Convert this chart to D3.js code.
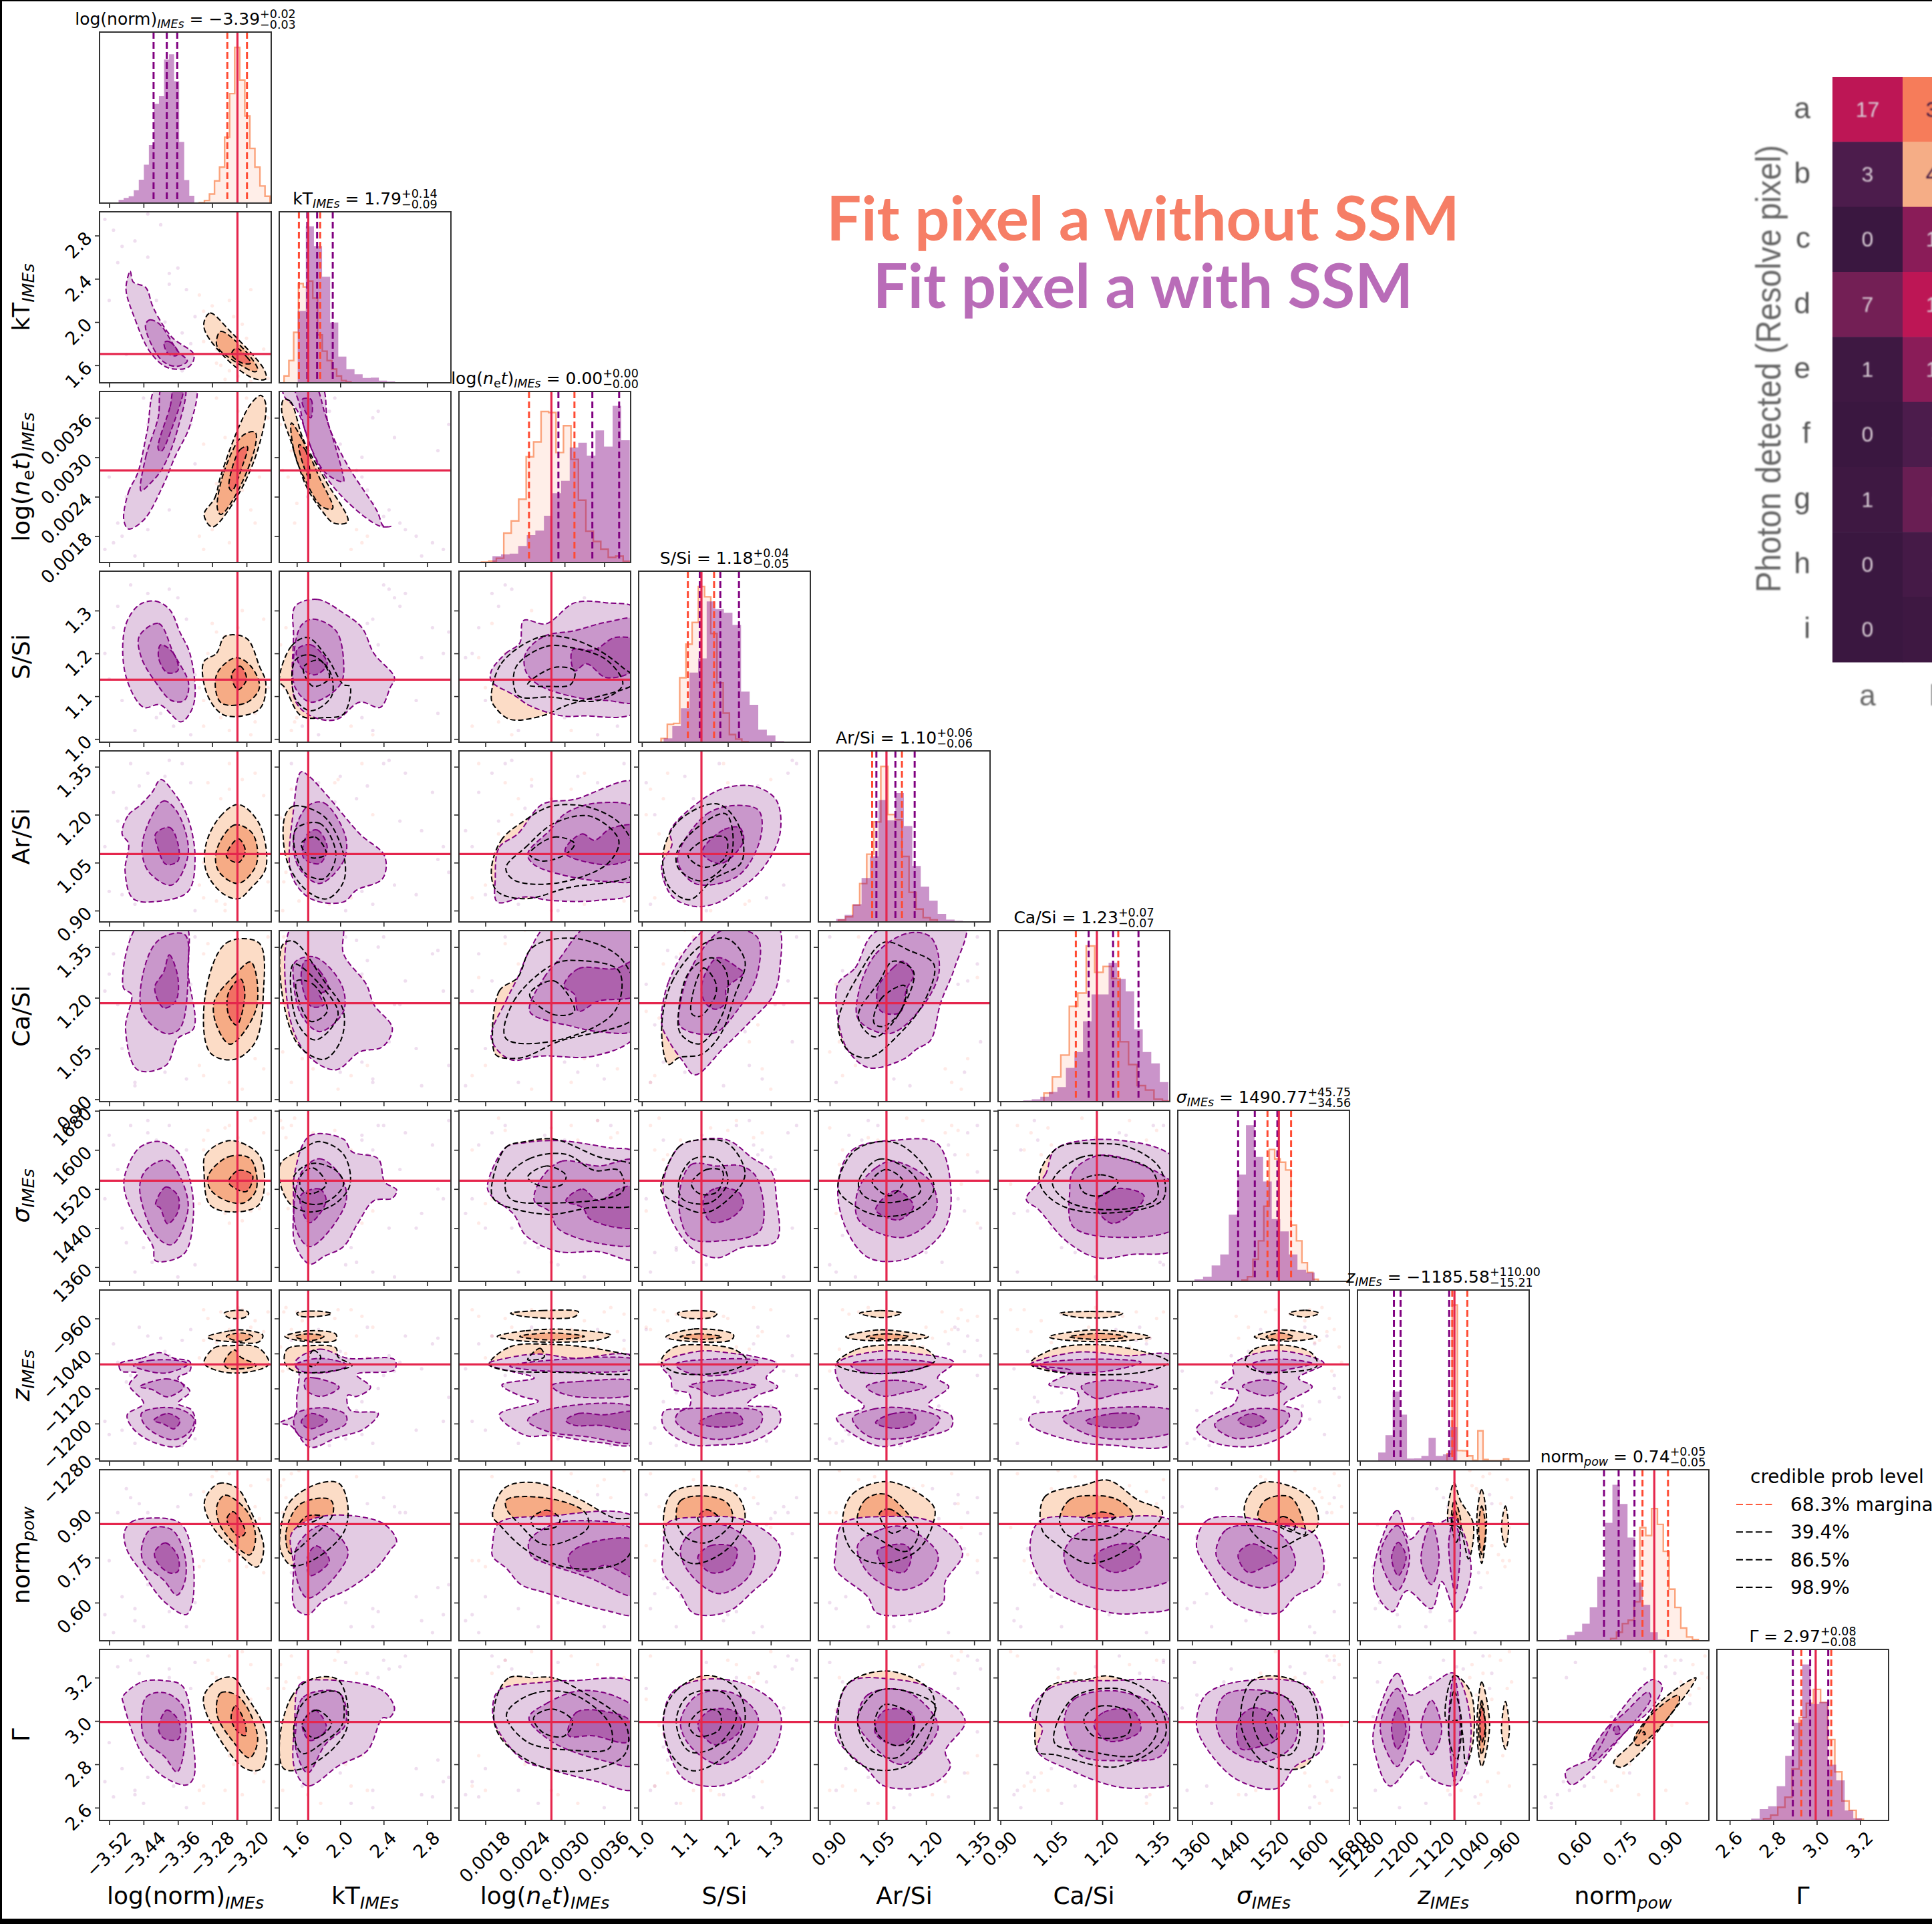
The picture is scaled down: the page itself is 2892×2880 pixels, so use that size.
<!DOCTYPE html>
<html><head><meta charset="utf-8">
<script src="https://cdn.jsdelivr.net/npm/d3@7"></script>
<style>html,body{margin:0;padding:0;background:#fff}svg{display:block}text{font-family:"DejaVu Sans"}</style>
</head><body><svg id="c" width="2892" height="2880"></svg>
<script>
const paramDomains=[[-3.5425,-3.1425],[1.438,3.02],[.0014,.004],[.9925,1.392],[.8646,1.3996],[.893,1.3986],[1331,1681],[-1285.6,-895],[.473,1.043],[2.541,3.33]];
const paramTicks=[[-3.52,-3.44,-3.36,-3.28,-3.2],[1.6,2,2.4,2.8],[.0018,.0024,.003,.0036],[1,1.1,1.2,1.3],[.9,1.05,1.2,1.35],[.9,1.05,1.2,1.35],[1360,1440,1520,1600,1680],[-1280,-1200,-1120,-1040,-960],[.6,.75,.9],[2.6,2.8,3,3.2]];
const tickFormats=[".2f",".1f",".4f",".1f",".2f",".2f","d","d",".2f",".1f"];
const truthValues=[-3.2212,1.705,.0028,1.1386,1.0768,1.184,1537,-1065,.8618,2.995];
const medians=["−3.39","1.79","0.00","1.18","1.10","1.23","1490.77","−1185.58","0.74","2.97"];
const errPlus=["+0.02","+0.14","+0.00","+0.04","+0.06","+0.07","+45.75","+110.00","+0.05","+0.08"];
const errMinus=["−0.03","−0.09","−0.00","−0.05","−0.06","−0.07","−34.56","−15.21","−0.05","−0.08"];
const vlinesSsm=[[-3.4166,-3.3858,-3.3615],[1.696,1.787,1.931],[.002906,.00342,.003826],[1.1347,1.1825,1.2259],[1.0454,1.1047,1.1647],[1.1597,1.2317,1.3065],[1454,1488,1534],[-1202.7,-1187.5,-1077],[.695,.7434,.796],[2.89,2.9695,3.0527]];
const vlinesNoSsm=[[-3.2448,-3.199],[1.619,1.815],[.002461,.003149],[1.107,1.168],[1.0322,1.125],[1.122,1.247],[1513.9,1562],[-1070,-1035.7],[.8226,.9073],[2.929,3.0666]];
const histSsmStart=[-3.4981,1.608,.001907,1.0308,.9202,.9671,1365,-1254.7,.5468,2.6985];
const histSsmStep=[.01176,.0748,.00013,.02,.02635,.02514,17.5,16.35,.02513,.0391];
const histSsm=[
[.02,.03,.04,.075,.137,.225,.34,.58,.625,.84,.87,.713,.357,.135,.043,.002],
[.42,.915,.8,.62,.353,.153,.08,.05,.028,.03,.013,.008,.004],
[.037,.048,.052,.097,.16,.187,.273,.405,.478,.673,.7,.625,.772,.678,.916,.715],
[.003,.022,.094,.198,.407,.49,.823,.778,.757,.686,.296,.219,.073,.04,.007,.003],
[.018,.041,.104,.257,.383,.713,.594,.754,.561,.327,.206,.124,.047,.014,.007,.003],
[.007,.014,.028,.057,.085,.197,.29,.47,.627,.627,.812,.718,.645,.423,.29,.224,.114],
[.012,.027,.093,.157,.39,.624,.913,.728,.584,.364,.292,.157,.067,.052,.004],
[.004,.05,.151,.406,.271,.015,.016,.03,.136,.03,.039,.199],
[.007,.033,.053,.1,.195,.374,.689,.912,.8,.604,.341,.21,.05,.007],
[.011,.066,.083,.2,.378,.571,.912,.681,.692,.326,.234,.059,.013]];
const histNoSsmStart=[-3.3099,1.483,.00174,1.0447,.9275,1.028,1462,-1081.8,.717,2.7553];
const histNoSsmStep=[.01176,.044,.000113,.01445,.02196,.02493,11.1,11.68,.0194,.03277];
const histNoSsm=[
[.002,.015,.053,.13,.21,.385,.64,.91,.72,.51,.32,.21,.1,.04,.006],
[.04,.13,.295,.58,.56,.595,.495,.28,.185,.13,.08,.04,.013,.005],
[.002,.008,.025,.172,.243,.37,.618,.705,.883,.877,.643,.8,.603,.364,.183,.123,.078,.03,.037,.007],
[.022,.105,.11,.377,.573,.7,.91,.85,.636,.347,.17,.045,.018,.003],
[.011,.03,.098,.224,.396,.585,.909,.628,.597,.383,.173,.075,.025,.012],
[.05,.144,.272,.557,.635,.91,.756,.79,.72,.35,.217,.094,.068,.014,.004],
[.007,.027,.129,.237,.439,.771,.716,.696,.651,.329,.237,.109,.052,.012],
[.042,.912,.061,.06,.03,.004,.177,.009,.002,.002,.002,.012],
[.013,.05,.1,.12,.228,.661,.615,.773,.68,.523,.302,.195,.074,.022,.007],
[.011,.031,.077,.136,.302,.602,.685,.766,.69,.473,.284,.114,.059,.007]];
const heatRows=["a","b","c","d","e","f","g","h","i"];
const heatCols=["a","b"];
const heatValues=[[17,31],[3,41],[0,12],[7,17],[1,12],[0,3],[1,6],[0,2],[0,1]];
const legendLabels=["68.3% marginal","39.4%","86.5%","98.9%"];
// credible contours: [row, column, series, level, x, y, x, y, ...] in data units
const contourRings=[
[1,0,"s",0,-3.48,2.354,-3.471,2.47,-3.464,2.37,-3.435,2.32,-3.417,2.13,-3.374,1.86,-3.324,1.71,-3.324,1.64,-3.339,1.575,-3.385,1.58,-3.425,1.725,-3.464,2.07,-3.48,2.27],
[1,0,"s",1,-3.435,1.982,-3.425,2.02,-3.403,1.982,-3.36,1.73,-3.338,1.64,-3.363,1.59,-3.396,1.64,-3.43,1.87],
[1,0,"s",2,-3.392,1.81,-3.381,1.82,-3.36,1.73,-3.363,1.69,-3.383,1.71],
[1,0,"o",0,-3.299,2,-3.285,2.083,-3.238,1.914,-3.159,1.56,-3.155,1.475,-3.181,1.475,-3.238,1.627,-3.295,1.9],
[1,0,"o",1,-3.27,1.83,-3.26,1.914,-3.202,1.73,-3.174,1.56,-3.18,1.54,-3.224,1.627,-3.267,1.762],
[1,0,"o",2,-3.224,1.76,-3.2,1.68,-3.19,1.62,-3.21,1.62,-3.235,1.7],
[2,0,"s",0,-3.486,.00205,-3.475,.00247,-3.453,.00277,-3.432,.00338,-3.407,.0041,-3.32,.0041,-3.331,.0035,-3.367,.003,-3.396,.00255,-3.439,.00205,-3.475,.00191],
[2,0,"s",1,-3.446,.00249,-3.435,.003,-3.406,.0036,-3.395,.0041,-3.345,.0041,-3.36,.00344,-3.396,.00283,-3.428,.00258],
[2,0,"s",2,-3.406,.00313,-3.378,.00377,-3.367,.0041,-3.348,.0041,-3.374,.00344,-3.399,.00309],
[2,0,"o",0,-3.299,.00213,-3.274,.00238,-3.26,.00272,-3.216,.00349,-3.188,.00383,-3.166,.00394,-3.155,.0038,-3.174,.00311,-3.224,.00238,-3.28,.00194],
[2,0,"o",1,-3.268,.00222,-3.253,.00277,-3.209,.00333,-3.18,.00338,-3.18,.00316,-3.224,.00244,-3.26,.00213],
[2,0,"o",2,-3.241,.00255,-3.216,.00311,-3.198,.00316,-3.209,.00288,-3.234,.00249],
[2,1,"s",0,1.48,.0041,1.82,.0041,1.89,.0035,2.06,.0029,2.34,.00218,2.4,.00195,2.47,.00195,2.37,.00195,2.06,.00233,1.8,.00288,1.6,.00372,1.48,.00394],
[2,1,"s",1,1.58,.0041,1.76,.0041,1.86,.00366,2.02,.00277,2.03,.00263,1.86,.00277,1.69,.00333,1.62,.00383],
[2,1,"s",2,1.65,.00388,1.73,.00388,1.73,.0036,1.69,.00366],
[2,1,"o",0,1.48,.00388,1.54,.00385,1.66,.00327,1.86,.00266,2.07,.00202,1.94,.002,1.83,.00219,1.69,.00255,1.55,.00322,1.46,.00372],
[2,1,"o",1,1.55,.00352,1.65,.00327,1.8,.00272,1.93,.00222,1.83,.00225,1.69,.00261,1.58,.00305],
[2,1,"o",2,1.62,.00319,1.68,.00311,1.72,.00266,1.66,.00288],
[3,0,"s",0,-3.449,1.314,-3.412,1.322,-3.379,1.302,-3.355,1.249,-3.332,1.2,-3.32,1.1,-3.332,1.06,-3.353,1.04,-3.402,1.08,-3.44,1.074,-3.482,1.15,-3.482,1.265],
[3,0,"s",1,-3.45,1.24,-3.405,1.27,-3.37,1.2,-3.335,1.13,-3.345,1.09,-3.375,1.09,-3.41,1.13,-3.445,1.19],
[3,0,"s",2,-3.4,1.22,-3.37,1.2,-3.36,1.16,-3.385,1.155,-3.405,1.19],
[3,0,"o",0,-3.3,1.18,-3.27,1.2,-3.25,1.24,-3.2,1.235,-3.17,1.17,-3.155,1.13,-3.17,1.07,-3.25,1.055,-3.29,1.1],
[3,0,"o",1,-3.27,1.15,-3.225,1.19,-3.19,1.17,-3.17,1.12,-3.2,1.085,-3.26,1.085],
[3,0,"o",2,-3.235,1.15,-3.215,1.17,-3.2,1.14,-3.22,1.115],
[3,1,"s",0,1.585,1.31,1.79,1.326,2.03,1.294,2.2,1.26,2.31,1.2,2.5,1.143,2.46,1.12,2.37,1.074,2.18,1.086,1.96,1.045,1.73,1.054,1.585,1.09,1.57,1.24],
[3,1,"s",1,1.64,1.265,1.75,1.28,1.96,1.253,2.03,1.184,2,1.127,1.73,1.086,1.585,1.12,1.57,1.19],
[3,1,"s",2,1.6,1.208,1.73,1.22,1.88,1.176,1.77,1.15,1.64,1.167],
[3,1,"o",0,1.44,1.135,1.55,1.217,1.7,1.237,1.88,1.19,2.03,1.127,2.09,1.123,2.03,1.058,1.85,1.05,1.64,1.054,1.49,1.12],
[3,1,"o",1,1.585,1.184,1.73,1.196,1.9,1.16,1.92,1.1,1.73,1.066,1.585,1.095],
[3,1,"o",2,1.66,1.167,1.81,1.184,1.9,1.143,1.75,1.123],
[3,2,"s",0,.00189,1.159,.00211,1.2,.00232,1.224,.00238,1.277,.00272,1.269,.00315,1.318,.00364,1.318,.0041,1.302,.0041,1.066,.00327,1.054,.00296,1.054,.00247,1.078,.00224,1.102,.00189,1.135],
[3,2,"s",1,.00241,1.2,.00269,1.24,.00315,1.253,.00364,1.273,.0041,1.277,.0041,1.09,.00364,1.09,.00315,1.098,.0026,1.127,.00241,1.159],
[3,2,"s",2,.00312,1.208,.00345,1.208,.00376,1.237,.0041,1.228,.0041,1.167,.00364,1.143,.00333,1.176,.00315,1.159],
[3,2,"o",0,.00189,1.094,.00204,1.176,.0026,1.237,.00302,1.237,.00351,1.208,.00388,1.167,.0041,1.135,.00302,1.078,.00266,1.054,.00217,1.046,.00195,1.074],
[3,2,"o",1,.00226,1.167,.00272,1.216,.00315,1.212,.00364,1.184,.00388,1.127,.00351,1.09,.00278,1.098,.00229,1.102],
[3,2,"o",2,.00244,1.127,.00284,1.167,.00315,1.159,.00309,1.127,.00278,1.123],
[4,0,"s",0,-3.49,1.14,-3.475,1.2,-3.45,1.227,-3.42,1.27,-3.4,1.31,-3.37,1.27,-3.338,1.195,-3.32,1.066,-3.336,.96,-3.4,.93,-3.464,.937,-3.483,1.023,-3.475,1.11],
[4,0,"s",1,-3.435,1.152,-3.393,1.243,-3.36,1.205,-3.336,1.077,-3.374,.98,-3.426,1.018,-3.443,1.077],
[4,0,"s",2,-3.412,1.14,-3.379,1.16,-3.36,1.11,-3.36,1.055,-3.388,1.045,-3.407,1.098],
[4,0,"o",0,-3.294,1.11,-3.261,1.195,-3.219,1.232,-3.171,1.173,-3.155,1.034,-3.19,.97,-3.219,.937,-3.256,.954,-3.294,1.023],
[4,0,"o",1,-3.27,1.088,-3.228,1.168,-3.186,1.141,-3.177,1.045,-3.219,.985,-3.265,1.023],
[4,0,"o",2,-3.247,1.071,-3.219,1.125,-3.203,1.088,-3.219,1.05],
[4,1,"s",0,1.64,1.334,1.72,1.318,1.88,1.26,2.18,1.14,2.41,1.07,2.39,1,2.15,.964,2.03,.927,1.73,.937,1.55,1.013,1.57,1.216],
[4,1,"s",1,1.7,1.227,1.85,1.237,2.05,1.13,2.03,1.055,1.81,.985,1.62,1.034,1.57,1.13],
[4,1,"s",2,1.7,1.14,1.79,1.152,1.88,1.098,1.81,1.047,1.66,1.066],
[4,1,"o",0,1.49,1.195,1.57,1.227,1.85,1.195,2.03,1.077,2.03,.99,1.88,.937,1.7,.96,1.51,1.055],
[4,1,"o",1,1.585,1.152,1.81,1.173,1.96,1.077,1.85,1,1.66,1.023],
[4,1,"o",2,1.64,1.11,1.77,1.13,1.87,1.077,1.73,1.066],
[4,2,"s",0,.00195,1,.00201,1.098,.00229,1.14,.00266,1.232,.00315,1.248,.0041,1.3,.0041,.964,.00351,.932,.00278,.932,.00241,.943,.00198,.927],
[4,2,"s",1,.00244,1.077,.00278,1.152,.00302,1.205,.00351,1.237,.0041,1.216,.0041,1,.00364,.991,.00296,1.012,.00253,1.045],
[4,2,"s",2,.00302,1.098,.00327,1.14,.00345,1.12,.0037,1.157,.0041,1.163,.0041,1.077,.00376,1.045,.00327,1.055,.00302,1.077],
[4,2,"o",0,.00189,1.023,.00204,1.12,.00241,1.184,.00281,1.227,.00339,1.222,.00388,1.163,.0041,1.023,.00302,.97,.00241,.937,.00198,.96],
[4,2,"o",1,.00211,1.034,.00241,1.098,.00284,1.173,.00339,1.195,.00382,1.12,.00364,1.045,.00284,.985,.00223,.996],
[4,2,"o",2,.00247,1.077,.00284,1.13,.00315,1.11,.00302,1.077,.00266,1.055],
[4,3,"s",0,1.066,1.149,1.127,1.234,1.192,1.283,1.264,1.288,1.313,1.245,1.321,1.138,1.28,1.03,1.216,.956,1.175,.924,1.123,.913,1.07,.945,1.046,1.041,1.07,1.106],
[4,3,"s",1,1.086,1.084,1.151,1.202,1.22,1.229,1.272,1.213,1.276,1.127,1.224,1.009,1.127,.983,1.086,1.041],
[4,3,"s",2,1.143,1.095,1.192,1.154,1.228,1.159,1.236,1.116,1.184,1.047,1.143,1.074],
[4,3,"o",0,1.05,1.084,1.086,1.181,1.175,1.234,1.224,1.17,1.232,1.052,1.167,.999,1.11,.934,1.062,.977],
[4,3,"o",1,1.082,1.084,1.139,1.17,1.196,1.202,1.208,1.074,1.143,.993,1.086,1.03],
[4,3,"o",2,1.107,1.074,1.155,1.127,1.196,1.127,1.192,1.063,1.143,1.036],
[5,0,"s",0,-3.449,1.42,-3.344,1.42,-3.336,1.27,-3.323,1.11,-3.36,1.08,-3.388,1,-3.454,.987,-3.482,1.11,-3.468,1.21,-3.487,1.23],
[5,0,"s",1,-3.43,1.32,-3.398,1.377,-3.344,1.387,-3.336,1.28,-3.355,1.11,-3.388,1.094,-3.444,1.16],
[5,0,"s",2,-3.393,1.276,-3.38,1.327,-3.36,1.26,-3.365,1.19,-3.393,1.17,-3.414,1.23],
[5,0,"o",0,-3.296,1.21,-3.247,1.362,-3.171,1.362,-3.161,1.21,-3.18,1.068,-3.228,1.018,-3.285,1.038],
[5,0,"o",1,-3.275,1.19,-3.228,1.266,-3.19,1.306,-3.177,1.17,-3.238,1.063,-3.27,1.119],
[5,0,"o",2,-3.242,1.215,-3.214,1.256,-3.204,1.21,-3.223,1.119,-3.242,1.15],
[5,1,"s",0,1.57,1.42,2.01,1.42,2.03,1.33,2.24,1.24,2.31,1.18,2.48,1.11,2.39,1.055,2.18,1.04,1.96,.987,1.7,1.03,1.53,1.15],
[5,1,"s",1,1.585,1.306,1.77,1.32,2.01,1.24,2.03,1.16,1.81,1.1,1.64,1.15,1.57,1.25],
[5,1,"s",2,1.68,1.31,1.81,1.28,1.89,1.225,1.81,1.21,1.85,1.18,1.73,1.175,1.64,1.26],
[5,1,"o",0,1.47,1.357,1.57,1.367,1.85,1.25,2.03,1.16,2,1.07,1.85,1.018,1.62,1.058,1.47,1.2],
[5,1,"o",1,1.57,1.3,1.81,1.24,1.98,1.15,1.77,1.075,1.6,1.13],
[5,1,"o",2,1.6,1.25,1.75,1.24,1.88,1.16,1.73,1.13,1.62,1.19],
[5,2,"s",0,.00189,1.08,.00211,1.19,.00229,1.26,.00247,1.34,.00278,1.42,.0041,1.42,.0041,1.094,.00345,1.028,.00266,1.028,.00217,1.018],
[5,2,"s",1,.00247,1.16,.00269,1.26,.0029,1.31,.00339,1.42,.0041,1.42,.0041,1.11,.00351,1.1,.00302,1.12,.00278,1.13],
[5,2,"s",2,.00299,1.235,.00321,1.286,.00376,1.286,.0041,1.31,.0041,1.21,.00351,1.19,.00321,1.16,.00315,1.21],
[5,2,"o",0,.00192,1.05,.00201,1.22,.00229,1.26,.00247,1.34,.00269,1.367,.00327,1.372,.00388,1.31,.0041,1.15,.0029,1.07,.00235,1.023,.00198,1.028],
[5,2,"o",1,.00211,1.08,.00223,1.19,.00284,1.3,.00321,1.31,.00382,1.28,.00376,1.16,.0029,1.075],
[5,2,"o",2,.00247,1.21,.00284,1.25,.00315,1.16,.00284,1.15],
[5,3,"s",0,1.046,1.125,1.062,1.247,1.119,1.369,1.175,1.42,1.313,1.42,1.321,1.288,1.305,1.206,1.256,1.135,1.192,1.054,1.123,.972,1.095,1.013,1.062,1.074],
[5,3,"s",1,1.09,1.186,1.119,1.298,1.188,1.4,1.268,1.38,1.268,1.268,1.224,1.166,1.167,1.095,1.09,1.115],
[5,3,"s",2,1.139,1.237,1.175,1.318,1.224,1.288,1.236,1.273,1.196,1.227,1.196,1.186,1.171,1.166,1.147,1.186],
[5,3,"o",0,1.046,1.105,1.07,1.247,1.143,1.359,1.2,1.374,1.24,1.308,1.216,1.206,1.184,1.094,1.139,1.033,1.086,1.023,1.062,1.003],
[5,3,"o",1,1.086,1.166,1.111,1.278,1.163,1.318,1.196,1.278,1.192,1.166,1.135,1.064,1.09,1.094],
[5,3,"o",2,1.115,1.155,1.143,1.288,1.171,1.247,1.171,1.206,1.135,1.145],
[5,4,"s",0,.926,1.242,.979,1.288,1.043,1.395,1.321,1.42,1.289,1.288,1.246,1.186,1.214,1.074,1.172,1.049,1.129,1.018,1.022,.993,.958,1.043,.926,1.135],
[5,4,"s",1,.99,1.216,1.043,1.329,1.14,1.39,1.214,1.38,1.241,1.278,1.182,1.166,1.086,1.094,.99,1.135],
[5,4,"s",2,1.049,1.227,1.097,1.288,1.129,1.308,1.161,1.268,1.14,1.227,1.118,1.156,1.059,1.161],
[5,4,"o",0,.926,1.125,.99,1.268,1.07,1.364,1.15,1.339,1.225,1.298,1.193,1.186,1.118,1.094,1.022,1.023,.958,1.043],
[5,4,"o",1,.99,1.155,1.054,1.247,1.097,1.308,1.161,1.278,1.118,1.156,1.043,1.084,1,1.115],
[5,4,"o",2,1.038,1.125,1.059,1.196,1.129,1.237,1.14,1.227,1.118,1.156,1.065,1.115],
[6,0,"s",0,-3.482,1553,-3.449,1605,-3.402,1617,-3.36,1596,-3.332,1539,-3.324,1463,-3.346,1387,-3.412,1373,-3.418,1402,-3.464,1468,-3.485,1520],
[6,0,"s",1,-3.435,1558,-3.388,1579,-3.36,1553,-3.336,1482,-3.374,1406,-3.412,1425,-3.449,1520],
[6,0,"s",2,-3.412,1487,-3.388,1524,-3.36,1506,-3.36,1473,-3.384,1449,-3.402,1482],
[6,0,"o",0,-3.299,1553,-3.295,1591,-3.238,1619,-3.172,1591,-3.158,1534,-3.172,1487,-3.228,1473,-3.285,1487],
[6,0,"o",1,-3.289,1548,-3.242,1586,-3.191,1582,-3.177,1520,-3.205,1492,-3.247,1496,-3.285,1520],
[6,0,"o",2,-3.242,1534,-3.219,1558,-3.186,1548,-3.2,1515,-3.224,1520],
[6,1,"s",0,1.585,1558,1.72,1629,2.03,1622,2.11,1596,2.35,1582,2.41,1534,2.52,1518,2.48,1501,2.31,1496,2.16,1449,2.03,1402,1.85,1382,1.72,1366,1.585,1406,1.57,1482],
[6,1,"s",1,1.64,1553,1.81,1582,2.01,1544,2.05,1491,1.72,1402,1.585,1444],
[6,1,"s",2,1.64,1508,1.81,1520,1.87,1496,1.72,1451,1.64,1482],
[6,1,"o",0,1.45,1572,1.64,1600,1.81,1617,2.03,1591,2.09,1529,1.96,1491,1.73,1473,1.55,1487,1.45,1529],
[6,1,"o",1,1.57,1544,1.73,1572,1.96,1558,2.03,1529,1.85,1491,1.64,1496],
[6,1,"o",2,1.64,1548,1.75,1563,1.87,1529,1.73,1510,1.64,1520],
[6,2,"s",0,.00183,1525,.00211,1605,.00241,1615,.0029,1619,.00364,1605,.0041,1591,.0041,1378,.00351,1392,.0029,1392,.00241,1425,.00223,1468,.00189,1506],
[6,2,"s",1,.00266,1544,.00296,1577,.00351,1567,.0041,1577,.0041,1411,.00364,1406,.0029,1439,.00278,1473,.00254,1496],
[6,2,"s",2,.00302,1496,.00327,1520,.00351,1496,.00382,1520,.0041,1525,.0041,1444,.00339,1458,.00327,1482],
[6,2,"o",0,.00189,1515,.00211,1605,.00241,1617,.00284,1622,.00351,1586,.0041,1563,.0041,1491,.00339,1482,.00278,1468,.00217,1482,.00195,1496],
[6,2,"o",1,.00211,1539,.00247,1582,.00302,1591,.00345,1558,.00382,1558,.00388,1515,.00272,1491,.00217,1501],
[6,2,"o",2,.00244,1544,.00272,1567,.00302,1548,.00296,1529,.00266,1525],
[6,3,"s",0,1.05,1535,1.086,1606,1.127,1620,1.2,1620,1.256,1584,1.301,1556,1.313,1499,1.313,1414,1.232,1400,1.175,1379,1.115,1400,1.062,1471],
[6,3,"s",1,1.086,1499,1.115,1570,1.175,1567,1.232,1567,1.268,1542,1.276,1436,1.184,1414,1.111,1421],
[6,3,"s",2,1.143,1499,1.171,1521,1.224,1514,1.236,1489,1.208,1461,1.159,1453],
[6,3,"o",0,1.046,1535,1.086,1606,1.127,1620,1.2,1613,1.24,1549,1.192,1492,1.143,1471,1.078,1492,1.046,1514],
[6,3,"o",1,1.086,1535,1.119,1581,1.175,1581,1.2,1535,1.159,1492,1.095,1499],
[6,3,"o",2,1.115,1531,1.151,1560,1.188,1556,1.175,1514,1.135,1510],
[6,4,"s",0,.926,1528,.969,1599,1.107,1620,1.235,1613,1.278,1514,1.256,1436,1.15,1379,1.022,1379,.948,1443],
[6,4,"s",1,.99,1521,1.043,1563,1.097,1577,1.214,1535,1.23,1471,1.129,1421,.99,1457],
[6,4,"s",2,1.043,1478,1.107,1517,1.161,1485,1.118,1457,1.07,1464],
[6,4,"o",0,.926,1521,.979,1599,1.097,1616,1.182,1577,1.225,1521,1.172,1478,1.065,1464,.979,1485],
[6,4,"o",1,.99,1535,1.054,1581,1.15,1556,1.182,1514,1.086,1492,1.006,1506],
[6,4,"o",2,1.032,1535,1.075,1560,1.129,1535,1.086,1506],
[6,5,"s",0,.976,1499,1.032,1549,1.063,1602,1.246,1620,1.42,1577,1.42,1400,1.287,1386,1.185,1379,1.093,1414,1.012,1478],
[6,5,"s",1,1.104,1514,1.114,1556,1.185,1588,1.287,1577,1.42,1521,1.42,1443,1.246,1421,1.114,1443],
[6,5,"s",2,1.185,1499,1.246,1521,1.323,1506,1.277,1464,1.226,1450,1.185,1478],
[6,5,"o",0,1.017,1556,1.073,1606,1.185,1613,1.277,1606,1.369,1563,1.379,1499,1.226,1471,1.083,1485,1.022,1521],
[6,5,"o",1,1.053,1535,1.134,1584,1.246,1584,1.348,1556,1.358,1499,1.195,1478,1.088,1499],
[6,5,"o",2,1.134,1535,1.195,1549,1.246,1535,1.195,1506,1.144,1514],
[7,0,"s",0,-3.496,-1064,-3.445,-1051,-3.402,-1038,-3.369,-1051,-3.332,-1059,-3.332,-1080,-3.36,-1096,-3.332,-1127,-3.36,-1154,-3.328,-1169,-3.32,-1206,-3.355,-1251,-3.416,-1243,-3.464,-1212,-3.478,-1180,-3.44,-1154,-3.473,-1112,-3.454,-1085,-3.492,-1080],
[7,0,"s",1,-3.464,-1067,-3.426,-1056,-3.36,-1056,-3.336,-1064,-3.379,-1083,-3.416,-1083],
[7,0,"s",1,-3.449,-1116,-3.388,-1098,-3.35,-1109,-3.346,-1117,-3.384,-1139,-3.421,-1122],
[7,0,"s",1,-3.445,-1177,-3.402,-1164,-3.35,-1169,-3.322,-1191,-3.336,-1222,-3.374,-1237,-3.435,-1206],
[7,0,"s",2,-3.416,-1193,-3.384,-1177,-3.355,-1193,-3.369,-1212,-3.393,-1201],
[7,0,"o",0,-3.252,-948,-3.238,-943,-3.2,-943,-3.195,-949,-3.205,-958,-3.242,-958],
[7,0,"o",0,-3.291,-1002,-3.238,-988,-3.21,-986,-3.162,-998,-3.172,-1014,-3.247,-1012,-3.275,-1009],
[7,0,"o",0,-3.299,-1062,-3.275,-1027,-3.238,-1022,-3.172,-1027,-3.148,-1064,-3.2,-1083,-3.265,-1080],
[7,0,"o",1,-3.247,-1001,-3.214,-993,-3.186,-1001,-3.214,-1012],
[7,0,"o",1,-3.252,-1059,-3.228,-1032,-3.214,-1048,-3.177,-1067,-3.214,-1075,-3.247,-1072],
[7,1,"s",0,1.585,-1059,1.81,-1030,2.07,-1051,2.5,-1054,2.5,-1077,2.15,-1088,2.28,-1117,2.15,-1138,2.07,-1135,2.09,-1169,2.35,-1177,2.22,-1212,1.96,-1233,1.72,-1254,1.55,-1206,1.45,-1198,1.585,-1180,1.6,-1138,1.62,-1085],
[7,1,"s",1,1.585,-1067,1.81,-1051,2.07,-1067,1.88,-1083,1.64,-1080],
[7,1,"s",1,1.68,-1098,1.77,-1096,1.99,-1117,1.82,-1138,1.68,-1122],
[7,1,"s",1,1.585,-1180,1.85,-1164,2.05,-1180,2.05,-1201,1.81,-1227,1.72,-1238,1.6,-1222],
[7,1,"s",2,1.64,-1196,1.73,-1177,1.88,-1193,1.72,-1212],
[7,1,"o",0,1.6,-948,1.79,-943,1.92,-949,1.77,-956,1.62,-954],
[7,1,"o",0,1.49,-1001,1.72,-988,1.96,-996,1.96,-1009,1.66,-1012],
[7,1,"o",0,1.49,-1062,1.51,-1030,1.73,-1022,1.96,-1027,1.98,-1048,2.11,-1067,1.81,-1083,1.57,-1080],
[7,1,"o",1,1.585,-1001,1.7,-995,1.85,-1001,1.72,-1011],
[7,1,"o",1,1.7,-1064,1.75,-1033,1.82,-1048,1.75,-1070],
[7,2,"s",0,.00183,-1064,.00211,-1051,.0026,-1041,.00315,-1051,.0041,-1051,.0041,-1243,.00351,-1243,.00278,-1227,.00241,-1227,.00201,-1180,.0026,-1149,.00235,-1138,.00205,-1112,.00254,-1096,.00217,-1080],
[7,2,"s",1,.00217,-1069,.00272,-1056,.0041,-1056,.0041,-1072,.00272,-1080],
[7,2,"s",1,.00281,-1113,.00321,-1104,.0041,-1106,.0041,-1130,.00327,-1140,.0029,-1127],
[7,2,"s",1,.00244,-1193,.00272,-1169,.0041,-1167,.0041,-1240,.00333,-1230,.00272,-1217],
[7,2,"s",2,.00302,-1193,.00321,-1177,.00358,-1180,.0041,-1175,.0041,-1212,.00352,-1204,.00315,-1204],
[7,2,"o",0,.00218,-948,.00266,-942,.00321,-945,.00315,-956,.00241,-956],
[7,2,"o",0,.00198,-1001,.00241,-988,.00302,-985,.0037,-998,.00351,-1009,.00241,-1012],
[7,2,"o",0,.00186,-1064,.00217,-1025,.00278,-1019,.00364,-1033,.0041,-1054,.0041,-1080,.00302,-1083,.00205,-1077],
[7,2,"o",1,.00232,-1001,.00278,-993,.0033,-1001,.00278,-1009],
[7,2,"o",1,.00244,-1054,.00263,-1028,.00269,-1048],
[7,3,"s",0,1.045,-1065,1.132,-1035,1.213,-1040,1.251,-1045,1.316,-1065,1.289,-1096,1.316,-1116,1.267,-1137,1.245,-1157,1.316,-1167,1.321,-1198,1.262,-1239,1.175,-1249,1.11,-1247,1.051,-1208,1.051,-1172,1.11,-1162,1.11,-1132,1.072,-1121,1.067,-1096],
[7,3,"s",1,1.078,-1065,1.165,-1053,1.272,-1058,1.24,-1078,1.165,-1091,1.099,-1081],
[7,3,"s",1,1.11,-1114,1.18,-1101,1.229,-1106,1.267,-1114,1.213,-1127,1.165,-1137,1.132,-1121],
[7,3,"s",1,1.078,-1193,1.089,-1172,1.175,-1165,1.278,-1175,1.272,-1208,1.186,-1236,1.116,-1223],
[7,3,"s",2,1.132,-1198,1.175,-1178,1.224,-1178,1.235,-1198,1.18,-1208],
[7,3,"o",0,1.083,-948,1.121,-942,1.175,-948,1.165,-957,1.094,-957],
[7,3,"o",0,1.056,-1002,1.121,-984,1.213,-997,1.208,-1009,1.078,-1009],
[7,3,"o",0,1.045,-1058,1.072,-1027,1.132,-1020,1.218,-1032,1.245,-1058,1.197,-1081,1.078,-1083],
[7,3,"o",1,1.089,-1002,1.132,-995,1.186,-1002,1.137,-1008],
[7,4,"s",0,.921,-1065,1.05,-1035,1.164,-1040,1.286,-1060,1.236,-1096,1.271,-1116,1.207,-1157,1.279,-1182,1.279,-1208,1.179,-1233,1.05,-1251,.921,-1187,1.007,-1162,.936,-1116],
[7,4,"s",1,.964,-1065,1.079,-1053,1.221,-1063,1.136,-1081,1.007,-1083],
[7,4,"s",1,1.014,-1116,1.1,-1101,1.2,-1116,1.136,-1129,1.064,-1137],
[7,4,"s",1,.971,-1188,1.036,-1167,1.136,-1165,1.243,-1188,1.207,-1218,1.121,-1234,1.021,-1229],
[7,4,"s",2,1.043,-1198,1.093,-1178,1.164,-1178,1.164,-1198,1.107,-1211],
[7,4,"o",0,.993,-948,1.057,-942,1.124,-948,1.064,-958],
[7,4,"o",0,.95,-1002,1.057,-986,1.207,-1002,1.15,-1009,.993,-1009],
[7,4,"o",0,.921,-1063,.979,-1032,1.064,-1021,1.2,-1030,1.229,-1055,1.164,-1078,.993,-1083],
[7,4,"o",1,1.014,-1002,1.079,-995,1.147,-1002,1.079,-1008],
[7,5,"s",0,.988,-1065,1.124,-1037,1.273,-1045,1.42,-1050,1.42,-1241,1.219,-1249,1.11,-1239,.988,-1203,.988,-1182,1.124,-1162,1.124,-1126,1.043,-1111,1.11,-1080],
[7,5,"s",1,1.015,-1065,1.165,-1053,1.314,-1060,1.233,-1078,1.083,-1083],
[7,5,"s",1,1.138,-1116,1.219,-1101,1.362,-1115,1.246,-1132,1.178,-1142],
[7,5,"s",1,1.083,-1188,1.151,-1170,1.42,-1175,1.42,-1213,1.26,-1236,1.151,-1223],
[7,5,"s",2,1.151,-1195,1.233,-1177,1.307,-1183,1.3,-1203,1.205,-1208],
[7,5,"o",0,1.076,-948,1.165,-944,1.26,-948,1.233,-956,1.124,-957],
[7,5,"o",0,1.043,-1002,1.178,-986,1.341,-1002,1.246,-1012,1.083,-1009],
[7,5,"o",0,.988,-1063,1.056,-1030,1.192,-1020,1.341,-1040,1.395,-1060,1.314,-1083,1.07,-1083],
[7,5,"o",1,1.103,-1002,1.192,-994,1.273,-1002,1.192,-1008],
[7,6,"s",0,1444,-1065,1511,-1035,1577,-1040,1629,-1063,1577,-1096,1605,-1116,1548,-1157,1582,-1172,1577,-1203,1501,-1249,1406,-1244,1369,-1213,1425,-1167,1444,-1157,1454,-1126,1418,-1116,1444,-1091],
[7,6,"s",1,1482,-1065,1529,-1053,1605,-1063,1548,-1078,1511,-1086],
[7,6,"s",1,1463,-1115,1506,-1100,1553,-1115,1515,-1137],
[7,6,"s",1,1406,-1203,1444,-1178,1501,-1165,1558,-1178,1548,-1203,1449,-1234],
[7,6,"s",2,1454,-1193,1482,-1177,1511,-1193,1482,-1208],
[7,6,"o",0,1558,-948,1591,-941,1619,-948,1591,-957],
[7,6,"o",0,1487,-1002,1544,-986,1615,-1002,1558,-1012],
[7,6,"o",0,1468,-1060,1487,-1030,1548,-1021,1605,-1040,1615,-1068,1539,-1083,1482,-1076],
[7,6,"o",1,1511,-1002,1539,-993,1567,-1002,1539,-1009],
[8,0,"s",0,-3.485,.833,-3.469,.868,-3.436,.881,-3.355,.865,-3.327,.764,-3.327,.595,-3.341,.56,-3.393,.605,-3.44,.694,-3.478,.774],
[8,0,"s",1,-3.443,.794,-3.421,.848,-3.374,.843,-3.345,.764,-3.343,.675,-3.362,.625,-3.393,.675,-3.44,.734],
[8,0,"s",2,-3.414,.769,-3.389,.799,-3.36,.754,-3.36,.704,-3.379,.699,-3.408,.734],
[8,0,"o",0,-3.298,.938,-3.265,.997,-3.222,.982,-3.193,.913,-3.16,.784,-3.175,.719,-3.212,.754,-3.279,.853],
[8,0,"o",1,-3.269,.923,-3.25,.958,-3.198,.903,-3.179,.814,-3.193,.759,-3.26,.853],
[8,0,"o",2,-3.246,.878,-3.231,.903,-3.203,.833,-3.217,.819],
[8,1,"s",0,1.555,.833,1.84,.888,2.39,.865,2.52,.804,2.47,.779,2.33,.714,2.07,.644,1.84,.605,1.7,.56,1.58,.585,1.57,.724],
[8,1,"s",1,1.61,.794,1.84,.858,2.07,.774,1.99,.704,1.7,.615,1.59,.694],
[8,1,"s",2,1.7,.754,1.78,.789,1.9,.739,1.72,.69],
[8,1,"o",0,1.44,.804,1.53,.933,1.8,.997,1.99,.997,2.07,.923,2.03,.833,1.76,.744,1.55,.724,1.46,.764],
[8,1,"o",1,1.5,.833,1.63,.928,1.91,.943,1.93,.893,1.69,.804,1.54,.764],
[8,1,"o",2,1.61,.853,1.69,.888,1.84,.888,1.67,.858],
[8,2,"s",0,.00191,.794,.002,.865,.00274,.888,.0041,.878,.0041,.565,.00361,.575,.00268,.635,.00234,.66,.00212,.714,.00191,.754],
[8,2,"s",1,.00246,.804,.00274,.853,.00312,.873,.0041,.833,.0041,.625,.00336,.684,.00268,.734,.0025,.754],
[8,2,"s",2,.00306,.754,.0033,.794,.0041,.804,.0041,.684,.00361,.724,.00336,.704,.00312,.714],
[8,2,"o",0,.00191,.888,.00209,.982,.00256,1,.00324,.943,.00374,.883,.0041,.873,.00392,.744,.00312,.714,.00243,.774,.002,.863],
[8,2,"o",1,.00212,.913,.00212,.943,.00274,.948,.0033,.903,.00336,.853,.00312,.814,.00268,.794,.00231,.863],
[8,2,"o",2,.00249,.878,.00274,.908,.00293,.878,.00287,.853,.00256,.848],
[8,3,"s",0,1.05,.78,1.06,.865,1.13,.885,1.24,.875,1.32,.79,1.31,.71,1.26,.64,1.2,.57,1.12,.565,1.09,.63,1.05,.7],
[8,3,"s",1,1.09,.78,1.13,.85,1.2,.855,1.26,.78,1.25,.69,1.18,.63,1.11,.7],
[8,3,"s",2,1.13,.75,1.16,.79,1.22,.78,1.21,.72,1.16,.7],
[8,3,"o",0,1.05,.86,1.07,.965,1.15,.99,1.22,.96,1.24,.88,1.2,.78,1.12,.73,1.07,.78],
[8,3,"o",1,1.08,.88,1.09,.94,1.15,.955,1.2,.93,1.21,.87,1.15,.8,1.1,.82],
[8,3,"o",2,1.13,.88,1.15,.91,1.18,.88,1.15,.855],
[8,4,"s",0,.918,.761,.94,.862,1.07,.887,1.223,.867,1.314,.766,1.26,.67,1.253,.6,1.2,.57,1.048,.565,1.018,.62,.918,.711],
[8,4,"s",1,.987,.791,1.055,.842,1.131,.852,1.237,.761,1.207,.68,1.116,.642,1.018,.701],
[8,4,"s",2,1.048,.771,1.07,.786,1.139,.791,1.154,.751,1.131,.701,1.07,.721],
[8,4,"o",0,.94,.872,.971,.962,1.086,1.003,1.223,.922,1.223,.867,1.17,.771,1.048,.731,.971,.771],
[8,4,"o",1,.987,.862,1.01,.942,1.07,.962,1.139,.902,1.177,.832,1.139,.771,1.055,.811],
[8,4,"o",2,1.055,.897,1.086,.912,1.139,.862,1.093,.832],
[8,5,"s",0,.987,.781,1.016,.872,1.189,.882,1.42,.862,1.42,.595,1.305,.565,1.233,.565,1.103,.61,1.023,.67],
[8,5,"s",1,1.088,.771,1.16,.852,1.276,.842,1.42,.791,1.42,.691,1.247,.64,1.117,.68],
[8,5,"s",2,1.175,.751,1.233,.791,1.298,.791,1.312,.741,1.233,.701],
[8,5,"o",0,1.023,.842,1.03,.952,1.146,.992,1.218,1.008,1.305,.942,1.377,.902,1.305,.801,1.16,.731,1.059,.801],
[8,5,"o",1,1.074,.872,1.103,.942,1.175,.957,1.247,.942,1.29,.892,1.233,.821,1.103,.821],
[8,5,"o",2,1.139,.877,1.197,.902,1.24,.887,1.197,.867],
[8,6,"s",0,1369,.792,1389,.872,1449,.887,1530,.862,1610,.827,1625,.68,1570,.62,1535,.565,1444,.6,1399,.691],
[8,6,"s",1,1409,.761,1429,.842,1480,.857,1545,.821,1570,.721,1510,.65,1439,.691],
[8,6,"s",2,1454,.761,1484,.796,1535,.741,1510,.721,1474,.701],
[8,6,"o",0,1467,.922,1500,.998,1570,.982,1610,.927,1615,.852,1575,.811,1530,.781,1480,.842],
[8,6,"o",1,1495,.882,1510,.942,1560,.952,1585,.882,1590,.827,1550,.852],
[8,6,"o",2,1530,.867,1545,.887,1570,.862,1565,.837],
[8,7,"s",0,-1245,.741,-1195,.907,-1167,.811,-1128,.867,-1105,.862,-1066,.882,-1027,.711,-1061,.57,-1094,.67,-1117,.58,-1173,.64,-1206,.57,-1245,.64],
[8,7,"s",1,-1234,.761,-1195,.857,-1167,.751,-1195,.64],
[8,7,"s",1,-1141,.741,-1117,.867,-1100,.741,-1117,.66],
[8,7,"s",1,-1078,.801,-1066,.872,-1052,.8,-1063,.63],
[8,7,"s",2,-1208,.751,-1193,.801,-1175,.751,-1193,.69],
[8,7,"o",0,-1078,.862,-1066,1,-1052,.942,-1022,.862,-1033,.746,-1055,.852],
[8,7,"o",0,-1014,.882,-1003,.977,-992,.882,-1003,.731],
[8,7,"o",0,-958,.847,-949,.922,-942,.847,-949,.786],
[8,7,"o",1,-1072,.872,-1065,.942,-1050,.862,-1061,.801],
[8,7,"o",1,-1010,.847,-1003,.922,-994,.847,-1003,.76],
[8,7,"o",2,-1070,.872,-1064,.907,-1057,.867],
[9,0,"s",0,-3.489,3.11,-3.444,3.18,-3.391,3.186,-3.349,3.16,-3.325,2.918,-3.323,2.74,-3.339,2.705,-3.391,2.74,-3.444,2.85,-3.487,3.083],
[9,0,"s",1,-3.444,2.97,-3.434,3.11,-3.391,3.13,-3.349,3.07,-3.343,2.904,-3.362,2.765,-3.391,2.835,-3.434,2.904],
[9,0,"s",2,-3.405,2.96,-3.386,3.05,-3.358,3,-3.358,2.918,-3.391,2.918],
[9,0,"o",0,-3.3,3.11,-3.269,3.186,-3.231,3.2,-3.203,3.124,-3.155,2.945,-3.165,2.78,-3.203,2.78,-3.279,2.973],
[9,0,"o",1,-3.269,3.03,-3.26,3.13,-3.217,3.11,-3.174,2.918,-3.193,2.83,-3.231,2.904],
[9,0,"o",2,-3.236,3.014,-3.226,3.07,-3.203,2.986,-3.203,2.932,-3.222,2.953],
[9,1,"s",0,1.58,2.986,1.63,3.17,1.84,3.19,2.39,3.14,2.5,3.055,2.45,3.014,2.39,3.014,2.25,2.863,1.99,2.795,1.7,2.7,1.58,2.78],
[9,1,"s",1,1.59,2.96,1.66,3.11,1.99,3.13,2.05,2.986,1.86,2.89,1.7,2.76,1.6,2.85],
[9,1,"s",2,1.65,2.986,1.76,3.05,1.84,3.014,1.87,2.96,1.72,2.91],
[9,1,"o",0,1.44,2.904,1.55,3.11,1.72,3.19,1.98,3.19,2.07,2.986,1.94,2.875,1.65,2.78,1.48,2.78],
[9,1,"o",1,1.57,2.96,1.69,3.1,1.99,3.13,2.02,2.986,1.84,2.9,1.65,2.85],
[9,1,"o",2,1.65,2.986,1.78,3.05,1.92,2.986,1.76,2.92],
[9,2,"s",0,.00191,3.055,.002,3.14,.00274,3.18,.00312,3.186,.0041,3.166,.0041,2.69,.00343,2.725,.00274,2.78,.00237,2.82,.00197,2.97],
[9,2,"s",1,.00246,3.014,.00274,3.083,.00324,3.14,.0038,3.11,.0041,3.04,.0041,2.8,.00355,2.82,.00281,2.904],
[9,2,"s",2,.00306,2.933,.00318,3.04,.00368,3.04,.00399,3,.00396,2.904,.00343,2.932],
[9,2,"o",0,.00197,3.11,.00216,3.2,.0025,3.2,.00281,3.2,.00324,3.14,.00392,2.986,.00392,2.85,.00349,2.78,.00274,2.78,.00212,2.89,.00194,2.986],
[9,2,"o",1,.00212,3.03,.0025,3.124,.00312,3.124,.00368,2.986,.00368,2.875,.00312,2.865,.00243,2.904],
[9,2,"o",2,.00253,3.014,.00281,3.055,.00312,3,.00299,2.93,.00268,2.945],
[9,3,"s",0,1.05,3,1.07,3.13,1.14,3.19,1.24,3.17,1.32,3.05,1.31,2.87,1.26,2.77,1.18,2.7,1.1,2.73,1.06,2.87],
[9,3,"s",1,1.09,3,1.13,3.12,1.21,3.13,1.27,3.02,1.25,2.89,1.18,2.8,1.11,2.89],
[9,3,"s",2,1.13,2.98,1.16,3.05,1.22,3.04,1.23,2.96,1.17,2.89],
[9,3,"o",0,1.05,3.02,1.08,3.14,1.15,3.21,1.22,3.15,1.24,3,1.2,2.85,1.12,2.77,1.07,2.84],
[9,3,"o",1,1.08,3,1.11,3.12,1.19,3.13,1.22,3.02,1.17,2.88,1.11,2.86],
[9,3,"o",2,1.11,2.98,1.14,3.05,1.18,3.04,1.18,2.96,1.13,2.93],
[9,4,"s",0,.918,3,.964,3.18,1.093,3.193,1.215,3.15,1.322,3,1.26,2.86,1.276,2.79,1.215,2.705,1.07,2.7,1.018,2.775,.926,2.91],
[9,4,"s",1,.987,3,1.018,3.12,1.139,3.137,1.238,2.97,1.124,2.8,1.018,2.915],
[9,4,"s",2,1.04,2.97,1.07,3.047,1.154,3.04,1.162,2.955,1.116,2.886,1.048,2.93],
[9,4,"o",0,.926,3.025,.956,3.172,1.085,3.23,1.215,3.137,1.223,3,1.147,2.8,1.025,2.78,.949,2.87],
[9,4,"o",1,.987,3.01,1.048,3.137,1.139,3.137,1.23,3.067,1.185,2.955,1.108,2.83,1.025,2.87],
[9,4,"o",2,1.04,2.997,1.07,3.075,1.154,3.026,1.154,2.914,1.108,2.886,1.055,2.93],
[9,5,"s",0,.987,3.025,1.045,3.15,1.219,3.186,1.42,3.15,1.42,2.726,1.32,2.69,1.233,2.7,1.103,2.775,1.009,2.86,1.023,2.97],
[9,5,"s",1,1.088,2.997,1.117,3.1,1.247,3.137,1.392,3.025,1.378,2.845,1.247,2.817,1.132,2.845],
[9,5,"s",2,1.175,2.983,1.204,3.04,1.29,3.047,1.312,2.955,1.218,2.907],
[9,5,"o",0,1.009,2.86,1.037,3.15,1.16,3.193,1.218,3.207,1.349,3.12,1.385,2.93,1.247,2.79,1.059,2.845],
[9,5,"o",1,1.059,2.9,1.117,3.11,1.276,3.137,1.363,2.97,1.305,2.845,1.16,2.86],
[9,5,"o",2,1.146,3.01,1.19,3.067,1.276,3.04,1.276,2.942,1.175,2.93],
[9,6,"s",0,1369,3,1389,3.123,1470,3.186,1600,3.15,1625,2.872,1570,2.79,1535,2.69,1449,2.733,1379,2.914],
[9,6,"s",1,1409,3,1429,3.123,1550,3.11,1575,2.955,1560,2.872,1500,2.81,1429,2.886],
[9,6,"s",2,1454,3,1484,3.06,1525,3.026,1530,2.914,1495,2.88,1459,2.872],
[9,6,"o",0,1459,3,1480,3.18,1535,3.207,1600,3.137,1615,2.9,1590,2.79,1520,2.79,1480,2.873],
[9,6,"o",1,1484,3,1500,3.123,1560,3.095,1580,2.93,1560,2.845,1510,2.873],
[9,6,"o",2,1510,3,1530,3.054,1550,2.98,1530,2.914],
[9,7,"s",0,-1249,2.955,-1195,3.22,-1167,3.12,-1117,3.17,-1066,3.22,-1027,2.955,-1061,2.705,-1117,2.733,-1150,2.817,-1212,2.7,-1245,2.845],
[9,7,"s",1,-1234,2.97,-1195,3.15,-1167,2.97,-1195,2.79],
[9,7,"s",1,-1141,2.97,-1117,3.095,-1094,2.955,-1117,2.845],
[9,7,"s",1,-1078,3,-1066,3.21,-1052,3,-1065,2.72],
[9,7,"s",2,-1208,2.97,-1193,3.06,-1175,2.955,-1195,2.87],
[9,7,"o",0,-1083,3,-1066,3.21,-1029,3.137,-1022,2.914,-1039,2.8,-1055,3],
[9,7,"o",0,-1014,2.955,-1003,3.18,-985,2.98,-1003,2.79],
[9,7,"o",0,-958,2.955,-949,3.09,-940,2.955,-949,2.87],
[9,7,"o",1,-1078,2.93,-1066,3.137,-1049,3,-1060,2.82],
[9,7,"o",1,-1010,2.955,-1003,3.095,-994,2.955,-1003,2.845],
[9,7,"o",2,-1007,2.97,-1003,3.07,-995,2.97,-1003,2.9],
[9,8,"s",0,.567,2.764,.658,2.836,.731,3.01,.813,3.148,.859,3.191,.888,3.162,.85,3.054,.768,2.952,.658,2.778,.585,2.706],
[9,8,"s",1,.648,2.836,.704,2.967,.759,3.032,.841,3.133,.85,3.104,.786,2.981,.704,2.865,.663,2.819],
[9,8,"s",2,.727,2.967,.74,2.978,.748,2.945,.733,2.94],
[9,8,"o",0,.727,2.807,.795,2.909,.868,3.068,.95,3.162,1,3.199,.987,3.162,.905,3.01,.813,2.851,.749,2.786],
[9,8,"o",1,.795,2.916,.859,3.039,.941,3.119,.945,3.097,.868,2.952,.804,2.887],
[9,8,"o",2,.822,2.94,.827,2.952,.832,2.938]
];
// faint posterior samples: logNorm, kT, logNet, S, Ar, Ca, sigma, z, norm, Gamma
const dotsSsm=[
[-3.53,2.95,.0016,1.2,1.1,1.22,1500,-1195,.56,2.72],[-3.51,2.85,.0017,1.26,1.27,1.33,1610,-1018,.5,2.65],[-3.49,2.7,.0018,1.09,.95,1.05,1440,-1215,.62,2.78],[-3.5,2.55,.002,1.31,1.18,1.18,1560,-1060,.9,3.25],
[-3.47,2.4,.0021,1.36,1.36,1.38,1650,-1090,.95,3.28],[-3.46,2.3,.0023,1.02,.92,.95,1350,-1245,.58,2.68],[-3.45,2.25,.0025,1.27,1.29,1.31,1590,-980,.93,3.22],[-3.44,2.1,.0026,1.08,1.02,1.08,1400,-1130,.52,2.62],
[-3.43,2.6,.0019,1.34,1.33,1.25,1635,-1000,.9,3.3],[-3.42,2.15,.0028,1.12,1.25,1.37,1370,-1170,.82,3.12],[-3.41,2.2,.003,1.05,1,1.01,1620,-1150,.68,2.88],[-3.4,1.9,.0034,1.29,.94,1.28,1425,-1240,.86,3.18],
[-3.39,2.0,.0032,1.1,1.32,.98,1475,-1035,.78,2.76],[-3.38,2.35,.0037,1.22,1.05,1.35,1650,-1120,.57,3.2],[-3.37,1.65,.0038,1.03,1.2,1.12,1390,-1210,.63,2.7],[-3.36,2.5,.0033,1.33,.98,1.18,1340,-1080,.92,3.06],
[-3.35,1.55,.0039,1.18,1.36,1.3,1555,-1010,.7,2.95],[-3.34,2.3,.0036,1.28,1.1,.96,1600,-1190,.52,2.6],[-3.33,1.8,.0035,1.01,1.3,1.24,1500,-985,.96,3.15],[-3.32,2.05,.0029,1.15,.9,1.38,1365,-1235,.6,3.27],
[-3.46,2.75,.0015,1.19,1.15,.94,1470,-1075,.54,2.66],[-3.44,1.95,.0039,1.3,1.24,1.2,1585,-1160,.88,3.1],[-3.4,2.9,.0031,1.06,1.06,1.34,1520,-1005,.65,2.82],[-3.48,1.7,.0024,1.24,1.22,1.1,1410,-1105,.98,3.08],
[-3.52,2.2,.0027,1.14,.96,1.27,1630,-1225,.74,2.9],[-3.38,2.45,.0022,1.35,1.37,1.07,1440,-1045,.83,3.24],[-3.35,1.9,.0037,1.08,1.12,1.32,1395,-1250,.72,3.02],[-3.43,3,.0035,1.25,1.02,1,1660,-1140,.66,2.74]];
const dotsNoSsm=[
[-3.31,2.25,.0018,1.12,.98,1,1490,-1050,.72,2.68],[-3.3,2.1,.0016,1.03,.94,.97,1600,-940,.74,2.7],[-3.29,1.95,.0021,1.2,1.3,1.36,1640,-960,.93,3.28],[-3.28,2.15,.0019,1.27,1.04,1.12,1500,-1000,1.02,3.22],
[-3.27,1.75,.0026,1.16,1.16,1.05,1610,-1015,.98,3.12],[-3.26,1.6,.0023,1.05,1.25,1.3,1580,-945,.84,2.94],[-3.25,1.9,.0033,1.24,.92,1.24,1470,-1070,.9,3.05],[-3.24,1.55,.0031,1.02,1.28,.95,1650,-985,1.03,3.3],
[-3.23,2.05,.0024,1.1,1.1,1.4,1520,-1040,.78,2.8],[-3.22,1.5,.0037,1.26,1.02,1.18,1625,-935,.95,3.18],[-3.21,1.7,.0029,1.18,1.22,1.34,1455,-1005,.81,2.66],[-3.2,1.85,.0039,1.08,.96,1.08,1560,-950,.72,2.88],
[-3.19,1.45,.0035,1.22,1.19,1.28,1660,-1025,.99,3.26],[-3.18,1.65,.0033,1.06,1.33,1.02,1590,-965,.76,2.76],[-3.17,1.52,.0027,1.14,1.08,1.2,1480,-1075,.88,3.02],[-3.16,1.75,.0038,1.28,1.26,.99,1635,-990,.7,2.72],
[-3.15,1.48,.0036,1.12,.99,1.38,1510,-945,1.01,3.15],[-3.18,1.58,.002,1.04,1.14,1.14,1665,-1060,.92,2.98],[-3.24,2.2,.0017,1.19,1.36,1.26,1450,-955,.74,2.84],[-3.27,1.62,.0039,1.25,.93,1.07,1570,-1030,1.04,3.2],
[-3.21,1.98,.0025,1.3,1.31,.93,1530,-940,.85,3.32],[-3.3,1.82,.0032,1.09,1.05,1.33,1620,-1010,.97,2.62],[-3.19,2.3,.0022,1.01,1.2,1.16,1475,-980,.79,3.1],[-3.25,1.47,.0028,1.16,.9,1.04,1645,-1080,.9,2.68]];

const svg=d3.select("#c");
const PW=257,PH=256,OX=149,OY=48,DX=269,DY=269;
svg.append("rect").attr("width",2892).attr("height",2880).attr("fill","#fff");
const px=i=>OX+i*DX, py=i=>OY+i*DY;
const xS=paramDomains.map((d,i)=>d3.scaleLinear().domain(d).range([px(i),px(i)+PW]));
const yS=paramDomains.map(d=>d3.scaleLinear().domain(d).range([PH,0]));
const pC="#800080";
const colS=["#e3cbe3","#c997cb","#ae62ad"],colO=["#fcdcc6","#f6ab85","#f16f63"];
const TF=27;
function R(t,o={}){return Object.assign({t},o)}
const IMEs=R("IMEs",{sub:1,it:1});
const names=[[R("log(norm)"),IMEs],[R("kT"),IMEs],[R("log("),R("n",{it:1}),R("e",{sub:1}),R("t",{it:1}),R(")"),IMEs],[R("S/Si")],[R("Ar/Si")],[R("Ca/Si")],[R("σ",{it:1}),IMEs],[R("z",{it:1}),IMEs],[R("norm"),R("pow",{sub:1,it:1})],[R("Γ")]];
function math(cx,cy,runs,fs,rot){const g=svg.append("g");let x=0;
 runs.forEach(r=>{ if(r.stack){const a=g.append("text").attr("x",x).attr("y",-fs*.42).attr("font-size",fs*.7).text(r.stack[0]);
   const b=g.append("text").attr("x",x).attr("y",fs*.24).attr("font-size",fs*.7).text(r.stack[1]);
   x+=Math.max(a.node().getComputedTextLength(),b.node().getComputedTextLength());}
  else{const t=g.append("text").attr("x",x).attr("y",r.sub?fs*.2:0).attr("font-size",r.sub?fs*.7:fs).attr("font-style",r.it?"italic":"normal").style("white-space","pre").text(r.t);
   x+=t.node().getComputedTextLength();}});
 g.attr("transform",`translate(${cx},${cy}) rotate(${rot||0}) translate(${-x/2},0)`);}
let cid=0;
function panel(r,c){const g=svg.append("g").attr("transform",`translate(0,${py(r)})`);
 const id="cp"+(cid++);g.append("clipPath").attr("id",id).append("rect").attr("x",px(c)).attr("y",0).attr("width",PW).attr("height",PH);
 return {g,body:g.append("g").attr("clip-path",`url(#${id})`)};}
function axes(g,r,c,isDiag){const xa=d3.axisBottom(xS[c]).tickValues(paramTicks[c]).tickFormat(d3.format(tickFormats[c])).tickSize(7);
 const ax=g.append("g").attr("transform",`translate(0,${PH})`).call(xa);ax.select(".domain").remove();ax.selectAll("line").attr("stroke","#222").attr("stroke-width",1.6);
 if(r===9){ax.selectAll("text").attr("font-size",TF).attr("fill","#000").each(function(d){const t=d3.select(this),l=this.getComputedTextLength(),hb=(l+TF*.9)*.707/2;
   t.attr("text-anchor","middle").attr("dy",null).attr("y",0).attr("dominant-baseline","middle").attr("transform",`translate(0,${14+hb}) rotate(-45)`).attr("x",0);});}
 else ax.selectAll("text").remove();
 if(!isDiag){const ya=d3.axisLeft(yS[r]).tickValues(paramTicks[r]).tickFormat(d3.format(tickFormats[r])).tickSize(7);
  const ay=g.append("g").attr("transform",`translate(${px(c)},0)`).call(ya);ay.select(".domain").remove();ay.selectAll("line").attr("stroke","#222").attr("stroke-width",1.6);
  if(c===0){ay.selectAll("text").attr("font-size",TF).attr("fill","#000").attr("text-anchor","end").attr("dy",null).attr("x",0).attr("dominant-baseline","middle").attr("transform","translate(-15,0) rotate(-45)");}
  else ay.selectAll("text").remove();}
 g.append("rect").attr("x",px(c)).attr("y",0).attr("width",PW).attr("height",PH).attr("fill","none").attr("stroke","#333").attr("stroke-width",2);}
for(let r=0;r<10;r++)for(let c=0;c<=r;c++){
 const {g,body}=panel(r,c);
 if(r===c){const hy=d3.scaleLinear().domain([0,1]).range([PH,0]);
  const mk=(start,step,h)=>{const pts=h.map((v,i)=>[start+i*step,v]);pts.push([start+h.length*step,0]);return pts;};
  const area=d3.area().x(d=>xS[c](d[0])).y0(PH).y1(d=>hy(d[1])).curve(d3.curveStepAfter);
  const line=d3.line().x(d=>xS[c](d[0])).y(d=>hy(d[1])).curve(d3.curveStepAfter);
  const po=mk(histNoSsmStart[c],histNoSsmStep[c],histNoSsm[c]),ps=mk(histSsmStart[c],histSsmStep[c],histSsm[c]);
  body.append("path").attr("d",area(po)).attr("fill","#ff7f50").attr("fill-opacity",.13);
  body.append("path").attr("d",line([[po[0][0],0],...po])).attr("fill","none").attr("stroke","#fba37c").attr("stroke-width",2.4);
  body.append("path").attr("d",area(ps)).attr("fill",pC).attr("fill-opacity",.42);
  vlinesNoSsm[c].forEach(v=>body.append("line").attr("x1",xS[c](v)).attr("x2",xS[c](v)).attr("y1",0).attr("y2",PH).attr("stroke","#ff4b33").attr("stroke-width",3).attr("stroke-dasharray","10,5"));
  vlinesSsm[c].forEach(v=>body.append("line").attr("x1",xS[c](v)).attr("x2",xS[c](v)).attr("y1",0).attr("y2",PH).attr("stroke",pC).attr("stroke-width",3).attr("stroke-dasharray","10,5"));
  body.append("line").attr("x1",xS[c](truthValues[c])).attr("x2",xS[c](truthValues[c])).attr("y1",0).attr("y2",PH).attr("stroke","#e5264d").attr("stroke-width",3.2);
 }else{
  const X=xS[c],Y=yS[r];
  const dots=(arr,col)=>body.selectAll(null).data(arr).enter().append("circle").attr("cx",d=>X(d[c])).attr("cy",d=>Y(d[r])).attr("r",2.6).attr("fill",col).attr("fill-opacity",.13);
  dots(dotsSsm,pC);dots(dotsNoSsm,"#ff5a3c");
  const rings=contourRings.filter(e=>e[0]===r&&e[1]===c);
  const path=d3.line().curve(d3.curveCatmullRomClosed.alpha(.5));
  const toPts=e=>{const p=[];for(let i=4;i<e.length;i+=2)p.push([X(e[i]),Y(e[i+1])]);return p;};
  [0,1,2].forEach(l=>rings.filter(e=>e[2]==="o"&&e[3]===l).forEach(e=>body.append("path").attr("d",path(toPts(e))).attr("fill",colO[l])));
  [0,1,2].forEach(l=>rings.filter(e=>e[2]==="s"&&e[3]===l).forEach(e=>body.append("path").attr("d",path(toPts(e))).attr("fill",colS[l])));
  rings.filter(e=>e[2]==="s").forEach(e=>body.append("path").attr("d",path(toPts(e))).attr("fill","none").attr("stroke",pC).attr("stroke-width",2).attr("stroke-dasharray","8,4"));
  rings.filter(e=>e[2]==="o").forEach(e=>body.append("path").attr("d",path(toPts(e))).attr("fill","none").attr("stroke","#000").attr("stroke-width",2).attr("stroke-dasharray","8,4"));
  body.append("line").attr("x1",X(truthValues[c])).attr("x2",X(truthValues[c])).attr("y1",0).attr("y2",PH).attr("stroke","#e5264d").attr("stroke-width",3.2);
  body.append("line").attr("x1",px(c)).attr("x2",px(c)+PW).attr("y1",Y(truthValues[r])).attr("y2",Y(truthValues[r])).attr("stroke","#e5264d").attr("stroke-width",3.2);
 }
 axes(g,r,c,r===c);
}
names.forEach((n,i)=>{
 math(px(i)+PW/2,py(i)-11,[...n,R(" = "+medians[i]),{stack:[errPlus[i],errMinus[i]]}],25);
 math(px(i)+PW/2,2850,n,36);
 if(i>0)math(44,py(i)+PH/2,n,36,-90);
});
svg.append("text").attr("x",1711).attr("y",360).attr("text-anchor","middle").attr("font-size",92).attr("font-weight",700).style("font-family","Lato").attr("fill","#f67e66").text("Fit pixel a without SSM");
svg.append("text").attr("x",1711).attr("y",461).attr("text-anchor","middle").attr("font-size",92).attr("font-weight",700).style("font-family","Lato").attr("fill","#b96cb8").text("Fit pixel a with SSM");
const legColors=["#ff5a3c","#000","#000","#000"];
svg.append("text").attr("x",2620).attr("y",2220).attr("font-size",28).text("credible prob level");
const legY=d3.scalePoint().domain(legendLabels).range([2252,2376]);
legendLabels.forEach((l,i)=>{svg.append("line").attr("x1",2599).attr("x2",2657).attr("y1",legY(l)).attr("y2",legY(l)).attr("stroke",legColors[i]).attr("stroke-width",2).attr("stroke-dasharray","10,4.5");
 svg.append("text").attr("x",2680).attr("y",legY(l)+10).attr("font-size",28).text(l);});
const hx=d3.scaleBand().domain(heatCols).range([2743,2953]);
const hy=d3.scaleBand().domain(heatRows).range([115,991]);
const hc=d3.scaleLinear().domain([0,1,3,7,12,17,31,41]).range(["#3a1740","#3e1842","#4c1c4c","#731f55","#8a1c58","#bd1655","#f67c5a","#f5ad86"]);
const blur=svg.append("filter").attr("id","bl");blur.append("feGaussianBlur").attr("stdDeviation",1.1);
heatRows.forEach((rn,i)=>heatCols.forEach((cn,j)=>{const v=heatValues[i][j];
 svg.append("rect").attr("x",hx(cn)).attr("y",hy(rn)).attr("width",hx.bandwidth()+.5).attr("height",hy.bandwidth()+.5).attr("fill",hc(v));
 svg.append("text").attr("x",hx(cn)+hx.bandwidth()/2).attr("y",hy(rn)+hy.bandwidth()/2+11).attr("text-anchor","middle").attr("font-size",32).style("font-family","Liberation Sans").attr("fill",v>30?"#3a1740":"#d9cdd6").attr("filter","url(#bl)").text(v);
 }));
heatRows.forEach(rn=>svg.append("text").attr("x",2710).attr("y",hy(rn)+hy.bandwidth()/2+13).attr("text-anchor","end").attr("font-size",44).style("font-family","Liberation Sans").attr("fill","#555").attr("filter","url(#bl)").text(rn));
heatCols.forEach(cn=>svg.append("text").attr("x",hx(cn)+hx.bandwidth()/2).attr("y",1056).attr("text-anchor","middle").attr("font-size",44).style("font-family","Liberation Sans").attr("fill","#666").attr("filter","url(#bl)").text(cn));
svg.append("text").attr("transform","translate(2665,552) rotate(-90)").attr("text-anchor","middle").attr("font-size",52).style("font-family","Liberation Sans").attr("fill","#666").attr("textLength",670).attr("lengthAdjust","spacingAndGlyphs").attr("filter","url(#bl)").text("Photon detected (Resolve pixel)");
svg.append("rect").attr("width",2892).attr("height",2).attr("fill","#000");
svg.append("rect").attr("width",3).attr("height",2880).attr("fill","#000");
svg.append("rect").attr("y",2872).attr("width",2892).attr("height",8).attr("fill","#000");
</script></body></html>
